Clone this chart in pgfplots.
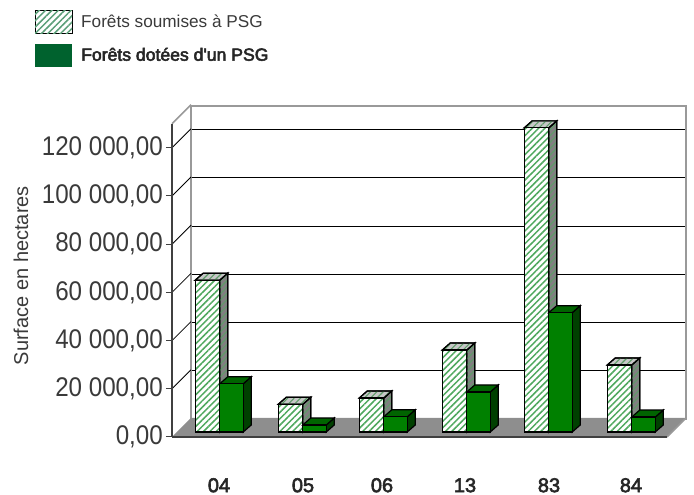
\documentclass[border=0pt]{standalone}
\usepackage{pgfplots}
\pgfplotsset{compat=1.18}
\usepackage{fontspec}
\usetikzlibrary{patterns.meta}
\setmainfont{Liberation Sans}
\newfontfamily\tickfont[FakeStretch=0.895]{Liberation Sans}
\newfontfamily\boldish[FakeBold=3]{Liberation Sans}
\definecolor{hatchgreen}{HTML}{4FA85E}
\definecolor{legendhatch}{HTML}{5A9E78}
\definecolor{txt}{HTML}{3A3A3A}
\definecolor{wallgray}{HTML}{999999}
\definecolor{floorgray}{HTML}{8E8E8E}
\tikzset{
  hatch/.style={pattern={Lines[angle=45,distance=4.5pt,line width=1.5pt]},pattern color=#1},
  hatchfront/.style={preaction={fill=white},hatch=hatchgreen},
  hatchtop/.style={preaction={fill=#1},pattern={Lines[angle=45,distance=4.5pt,line width=1.1pt]},pattern color=hatchgreen!70!gray},
}
\pgfplotsset{
  common/.style={
    scale only axis, width=495pt, height=313.3pt,
    xmin=172, xmax=667, ymin=0, ymax=130000, clip=false, scaled y ticks=false,
  },
}
% depth faces of a box: #1 centre, #2 half width, #3 value, #4 top style, #5 side style
\newcommand{\boxdepth}[5]{%
  \pgfmathsetmacro{\xl}{#1-#2}\pgfmathsetmacro{\xr}{#1+#2}%
  \pgfmathsetmacro{\xlb}{\xl+8}\pgfmathsetmacro{\xrb}{\xr+8}%
  \edef\vb{\the\numexpr#3+2905\relax}%
  \addplot[forget plot,draw=black,line width=1.2pt,#5] coordinates {(\xr,0)(\xrb,2905)(\xrb,\vb)(\xr,#3)} --cycle;
  \addplot[forget plot,draw=black,line width=1.2pt,#4] coordinates {(\xl,#3)(\xlb,\vb)(\xrb,\vb)(\xr,#3)} --cycle;
}
\begin{document}
\begin{tikzpicture}[x=1pt,y=1pt]
\path (0,0) rectangle (694,495);
% back wall
\begin{axis}[common, at={(191pt,76pt)}, anchor=south west,
  xmin=191, xmax=686,
  xtick=\empty, ytick={20000,40000,60000,80000,100000,120000},
  yticklabels={}, major tick length=0pt,
  ymajorgrids, major grid style={black,line width=1pt},
  axis line style={wallgray,line width=1.8pt}]
\end{axis}
% front plane: floor, side wall, ticks
\begin{axis}[common, at={(172pt,58pt)}, anchor=south west,
  axis x line*=bottom, axis y line*=left,
  axis line style={line width=1.5pt,draw=black!75,-},
  xtick={219,303,382,465,549,631},
  xticklabels={04,05,06,13,83,84},
  x tick style={draw=none},
  x tick label style={font=\boldish\fontsize{20}{21}\selectfont,text=black!85,anchor=north,inner sep=0pt,yshift=-35pt},
  ytick={0,20000,40000,60000,80000,100000,120000},
  y tick style={draw=black!75,line width=1pt},
  tick align=outside, major tick length=6pt,
  y tick label style={font=\tickfont\fontsize{27}{30}\selectfont,text=txt,inner sep=0pt,xshift=-3pt,
    /pgf/number format/.cd,assume math mode=true,fixed,fixed zerofill,precision=2,1000 sep={\ },dec sep={,}},
  ylabel={Surface en hectares},
  ylabel style={at={(axis description cs:-0.305,0.515)},anchor=center,font=\fontsize{20}{21}\selectfont,text=txt},
  axis on top]
\addplot[forget plot,fill=floorgray,draw=none] coordinates {(172,0)(667,0)(686,7884)(191,7884)} --cycle;
\addplot[forget plot,draw=black,line width=.8pt] coordinates {(172,20000)(191,27884)};
\addplot[forget plot,draw=black,line width=.8pt] coordinates {(172,40000)(191,47884)};
\addplot[forget plot,draw=black,line width=.8pt] coordinates {(172,60000)(191,67884)};
\addplot[forget plot,draw=black,line width=.8pt] coordinates {(172,80000)(191,87884)};
\addplot[forget plot,draw=black,line width=.8pt] coordinates {(172,100000)(191,107884)};
\addplot[forget plot,draw=black,line width=.8pt] coordinates {(172,120000)(191,127884)};
\addplot[forget plot,draw=wallgray,line width=1.5pt] coordinates {(172,130000)(191,137884)};
\addplot[forget plot,draw=wallgray,line width=1.5pt] coordinates {(667,0)(686,7884)};
\end{axis}
% bars
\begin{axis}[common, at={(172pt,63pt)}, anchor=south west, hide axis,
  legend style={at={(axis description cs:-0.2768,1.3466)},anchor=north west,draw=none,fill=none,
    inner sep=0pt,outer sep=0pt,row sep=10pt,
    nodes={inner sep=0pt,font=\fontsize{17.2}{18}\selectfont}},
  legend cell align=left]
\addlegendimage{legend image code/.code={\path[draw=none,preaction={fill=white},hatch=legendhatch] (0,-11.5pt) rectangle (37pt,11.5pt);\path[draw=none] (37pt,0) -- (46pt,0);}}
\addlegendentry{\textcolor{txt}{Forêts soumises à PSG}}
\addlegendimage{legend image code/.code={\fill[draw=none,fill={rgb,255:red,0;green,98;blue,46}] (0,-11.5pt) rectangle (37pt,11.5pt);\path[draw=none] (37pt,0) -- (46pt,0);}}
\addlegendentry{\boldish\fontsize{17.6}{18}\selectfont\textcolor{black!85}{Forêts dotées d'un PSG}}
% depth of hatched boxes
\boxdepth{207.5}{12.25}{63000}{hatchtop={black!22}}{hatchtop={black!50}}
\boxdepth{290.5}{12.25}{11500}{hatchtop={black!22}}{hatchtop={black!50}}
\boxdepth{371.5}{12.25}{14100}{hatchtop={black!22}}{hatchtop={black!50}}
\boxdepth{454.5}{12.25}{34000}{hatchtop={black!22}}{hatchtop={black!50}}
\boxdepth{536.5}{12.25}{126200}{hatchtop={black!22}}{hatchtop={black!50}}
\boxdepth{619.5}{12.25}{27800}{hatchtop={black!22}}{hatchtop={black!50}}
% hatched fronts
\addplot[forget plot,ybar,bar width=24.5pt,bar shift=0pt,draw=black,line width=1.2pt,hatchfront]
  coordinates {(207.5,63000)(290.5,11500)(371.5,14100)(454.5,34000)(536.5,126200)(619.5,27800)};
% depth of green boxes
\boxdepth{231.5}{11.75}{20000}{fill={rgb,255:red,0;green,100;blue,0}}{fill={rgb,255:red,0;green,64;blue,0}}
\boxdepth{314.5}{11.75}{2900}{fill={rgb,255:red,0;green,100;blue,0}}{fill={rgb,255:red,0;green,64;blue,0}}
\boxdepth{395.5}{11.75}{6300}{fill={rgb,255:red,0;green,100;blue,0}}{fill={rgb,255:red,0;green,64;blue,0}}
\boxdepth{478.5}{11.75}{16600}{fill={rgb,255:red,0;green,100;blue,0}}{fill={rgb,255:red,0;green,64;blue,0}}
\boxdepth{560.5}{11.75}{49500}{fill={rgb,255:red,0;green,100;blue,0}}{fill={rgb,255:red,0;green,64;blue,0}}
\boxdepth{643.5}{11.75}{6200}{fill={rgb,255:red,0;green,100;blue,0}}{fill={rgb,255:red,0;green,64;blue,0}}
% green fronts
\addplot[forget plot,ybar,bar width=23.5pt,bar shift=0pt,draw=black,line width=1.2pt,fill={rgb,255:red,0;green,128;blue,0}]
  coordinates {(231.5,20000)(314.5,2900)(395.5,6300)(478.5,16600)(560.5,49500)(643.5,6200)};
\end{axis}
\end{tikzpicture}
\end{document}
